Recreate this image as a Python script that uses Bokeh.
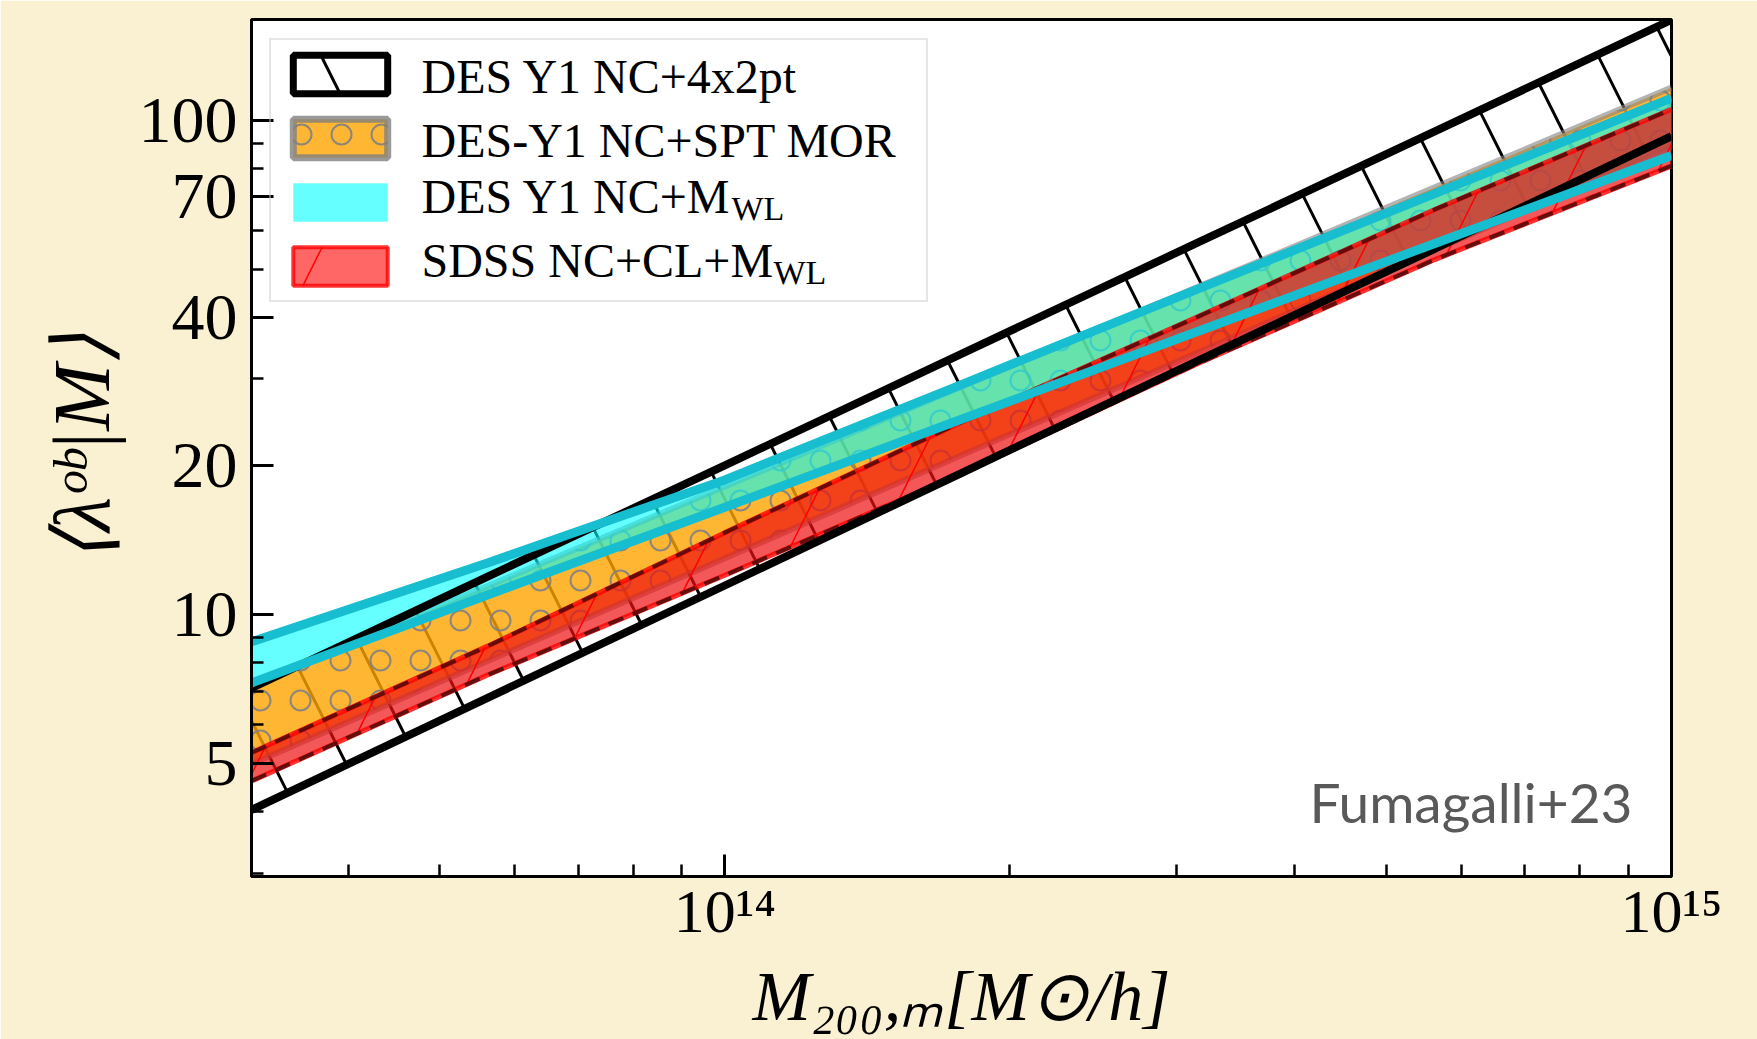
import math
from bokeh.plotting import figure
from bokeh.models import (Range1d, FixedTicker, CustomJSTickFormatter, Legend,
                          LegendItem, Label)
from bokeh.embed import file_html
from bokeh.resources import INLINE

# ---------------- data ----------------
mass = [3.162e13, 5.623e13, 1.0e14, 1.778e14, 3.162e14, 5.623e14, 1.0e15]

des_4x2pt_upper = [7.11, 11.96, 20.06, 33.71, 56.64, 95.0, 159.7]
des_4x2pt_lower = [4.03, 6.80, 11.46, 19.35, 32.66, 55.0, 92.9]

spt_mor_upper = [7.22, 11.44, 18.17, 28.92, 46.06, 73.2, 116.5]
spt_mor_lower = [4.99, 8.07, 13.01, 21.01, 33.94, 54.7, 88.4]

des_wl_upper = [8.82, 12.74, 18.74, 29.22, 45.63, 71.1, 110.9]
des_wl_lower = [7.28, 10.98, 16.50, 24.86, 37.46, 56.36, 84.9]

sdss_upper = [5.26, 8.65, 14.66, 24.53, 40.1, 66.05, 105.3]
sdss_lower = [4.61, 7.56, 12.02, 19.29, 32.22, 52.3, 80.9]

series_labels = ["DES Y1 NC+4x2pt", "DES-Y1 NC+SPT MOR", "DES Y1 NC+M", "SDSS NC+CL+M"]
series_subscripts = ["", "", "WL", "WL"]

x_tick_values = [1e14, 1e15]
x_tick_labels = ["10\u00b9\u2074", "10\u00b9\u2075"]
x_minor_ticks = [4e13, 5e13, 6e13, 7e13, 8e13, 9e13,
                 2e14, 3e14, 4e14, 5e14, 6e14, 7e14, 8e14, 9e14]
y_tick_values = [5, 10, 20, 40, 70, 100]
y_tick_labels = ["5", "10", "20", "40", "70", "100"]
y_minor_ticks = [3, 4, 6, 7, 8, 9, 30, 50, 60, 80, 90]

x_limits = [3.162e13, 1.0e15]
y_limits = [2.955, 160.0]

x_title = "M\u2082\u2080\u2080,\u2098[M\u2299/h]"
y_title = "\u27e8\u03bb\u1d52\u1d47|M\u27e9"
annotation_text = "Fumagalli+23"

# ---------------- layout constants ----------------
W, H = 1757, 1039
FL, FR, FT, FB = 251, 1671, 19, 876   # frame edges in page pixels
BEIGE = "#faf1d2"
SERIF = "Liberation Serif"


def sx(X):
    return X - FL


def sy(Y, size):
    # Y: wanted baseline in page pixels; compensate the renderer's baseline offset
    return FB - Y + 0.35 * size


p = figure(width=W, height=H, x_axis_type="log", y_axis_type="log",
           x_range=Range1d(*x_limits), y_range=Range1d(*y_limits),
           output_backend="svg", toolbar_location=None, title=None,
           min_border_left=FL, min_border_right=W - FR,
           min_border_top=FT, min_border_bottom=H - FB)

p.background_fill_color = "white"
p.border_fill_color = BEIGE
p.outline_line_color = "black"
p.outline_line_width = 3
p.xgrid.visible = False
p.ygrid.visible = False

# off-screen range used only by the legend proxy glyphs
p.extra_y_ranges = {"legend_proxy": Range1d(1e6, 2e6)}

# ---------------- bands ----------------
BLACK_HATCH = dict(hatch_pattern="left_diagonal_line", hatch_color="black",
                   hatch_weight=3, hatch_scale=146)
ORANGE_FILL = dict(fill_color="orange", fill_alpha=0.8, hatch_pattern="ring",
                   hatch_color="gray", hatch_alpha=0.9, hatch_weight=2,
                   hatch_scale=40)
CYAN_FILL = dict(fill_color="cyan", fill_alpha=0.6)
RED_FILL = dict(fill_color="#ee1010", fill_alpha=0.7,
                hatch_pattern="right_diagonal_line", hatch_color="red",
                hatch_weight=1.5, hatch_scale=170)

# DES Y1 NC+4x2pt: hatched, no fill
p.varea(x=mass, y1=des_4x2pt_lower, y2=des_4x2pt_upper, fill_color=None,
        **BLACK_HATCH)

# DES-Y1 NC+SPT MOR: orange with rings, gray edges
p.varea(x=mass, y1=spt_mor_lower, y2=spt_mor_upper, **ORANGE_FILL)
for yy in (spt_mor_upper, spt_mor_lower):
    p.line(mass, yy, line_color="gray", line_alpha=0.6, line_width=6)

# DES Y1 NC+M_WL fill
p.varea(x=mass, y1=des_wl_lower, y2=des_wl_upper, **CYAN_FILL)

# SDSS NC+CL+M_WL: red with "/" hatch and dashed edges
p.varea(x=mass, y1=sdss_lower, y2=sdss_upper, **RED_FILL)
for yy in (sdss_upper, sdss_lower):
    p.line(mass, yy, line_color="red", line_alpha=0.8, line_width=5)
    p.line(mass, yy, line_color="#4a0a0a", line_alpha=0.85, line_width=4,
           line_dash="16 10")

# black edges of the 4x2pt band
for yy in (des_4x2pt_upper, des_4x2pt_lower):
    p.line(mass, yy, line_color="black", line_width=8)

# cyan edges on top
for yy in (des_wl_upper, des_wl_lower):
    p.line(mass, yy, line_color="#17becf", line_width=9)

# ---------------- legend ----------------
def outline(up, lo):
    return list(mass) + list(mass[::-1]), list(up) + list(lo[::-1])


ox, oy = outline(des_4x2pt_upper, des_4x2pt_lower)
lg1 = p.patch(x=ox, y=oy, y_range_name="legend_proxy", fill_color=None,
              line_color="black", line_width=7, **BLACK_HATCH)
ox, oy = outline(spt_mor_upper, spt_mor_lower)
lg2 = p.patch(x=ox, y=oy, y_range_name="legend_proxy", line_color="gray",
              line_alpha=0.8, line_width=7, **ORANGE_FILL)
ox, oy = outline(des_wl_upper, des_wl_lower)
lg3 = p.patch(x=ox, y=oy, y_range_name="legend_proxy", line_color=None,
              **CYAN_FILL)
ox, oy = outline(sdss_upper, sdss_lower)
lg4 = p.patch(x=ox, y=oy, y_range_name="legend_proxy", fill_color="red",
              fill_alpha=0.6, line_color="red", line_alpha=0.8, line_width=4,
              hatch_pattern="right_diagonal_line", hatch_color="red",
              hatch_weight=1.5, hatch_scale=170)

legend = Legend(items=[LegendItem(label=" ", renderers=[r]) for r in (lg1, lg2, lg3, lg4)],
                location=(18, 574), orientation="vertical",
                glyph_width=118, glyph_height=48, spacing=16, padding=10,
                label_standoff=24, label_width=493, label_height=48,
                label_text_font_size="10px", margin=0,
                border_line_color="#cccccc", border_line_width=2,
                background_fill_color="white", background_fill_alpha=0.0)
p.add_layout(legend)

row_baselines = [93, 157, 213, 277]
sub_x = [None, None, 731, 773]
for i, txt in enumerate(series_labels):
    p.add_layout(Label(x=sx(421), y=sy(row_baselines[i], 48), x_units="screen",
                       y_units="screen", text=txt, text_font=SERIF,
                       text_font_size="48px", text_align="left",
                       text_baseline="alphabetic", text_color="black"))
    if series_subscripts[i]:
        p.add_layout(Label(x=sx(sub_x[i]), y=sy(row_baselines[i] + 7, 34),
                           x_units="screen", y_units="screen",
                           text=series_subscripts[i], text_font=SERIF,
                           text_font_size="34px", text_align="left",
                           text_baseline="alphabetic", text_color="black"))

# ---------------- axes ----------------
tick_code = """
for (let i = 0; i < vals.length; i++) {
  if (Math.abs(Math.log10(tick) - Math.log10(vals[i])) < 1e-6) { return labs[i] }
}
return ""
"""
p.xaxis.ticker = FixedTicker(ticks=x_tick_values, minor_ticks=x_minor_ticks)
p.xaxis.formatter = CustomJSTickFormatter(args=dict(vals=x_tick_values, labs=x_tick_labels), code=tick_code)
p.yaxis.ticker = FixedTicker(ticks=y_tick_values, minor_ticks=y_minor_ticks)
p.yaxis.formatter = CustomJSTickFormatter(args=dict(vals=y_tick_values, labs=y_tick_labels), code=tick_code)

for ax in (p.xaxis[0], p.yaxis[0]):
    ax.axis_line_color = "black"
    ax.axis_line_width = 3
    ax.major_tick_line_color = "black"
    ax.major_tick_line_width = 3
    ax.minor_tick_line_color = "black"
    ax.minor_tick_line_width = 2.5
    ax.major_tick_in = 22
    ax.major_tick_out = 0
    ax.minor_tick_in = 12
    ax.minor_tick_out = 0
    ax.major_label_text_font = SERIF
    ax.major_label_text_color = "black"
    ax.axis_label_text_font = SERIF
    ax.axis_label_text_font_style = "italic"
    ax.axis_label_text_color = "black"

p.xaxis.major_label_text_font_size = "62px"
p.xaxis.major_label_standoff = 0
p.yaxis.major_label_text_font_size = "66px"
p.yaxis.major_label_standoff = 14

p.xaxis.axis_label = x_title
p.xaxis.axis_label_text_font_size = "70px"
p.xaxis.axis_label_standoff = 10
p.yaxis.axis_label = y_title
p.yaxis.axis_label_text_font_size = "80px"
p.yaxis.axis_label_standoff = 10

# annotation
p.add_layout(Label(x=sx(1632), y=sy(821, 55), x_units="screen", y_units="screen",
                   text=annotation_text, text_font="Lato", text_font_size="55px",
                   text_align="right", text_baseline="alphabetic",
                   text_color="#595959"))

open("out.html", "w").write(file_html(p, INLINE))
